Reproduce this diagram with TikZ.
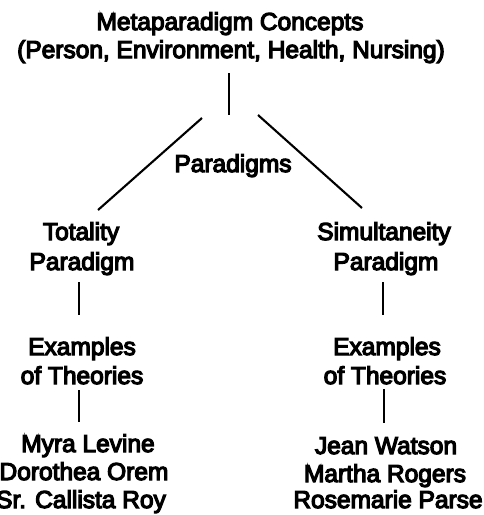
\documentclass[tikz,border=0pt]{standalone}
\usepackage{fontspec}
\setmainfont{Liberation Sans}[FakeBold=5]
\begin{document}
\begin{tikzpicture}[x=1pt,y=-1pt,
  lbl/.style={inner sep=0pt,anchor=base,font=\fontsize{24.5}{28}\selectfont},
  link/.style={line width=2.1pt}]
\useasboundingbox (0,0) rectangle (484,515);
% top concept
\node[lbl] (meta1) at (230,30) {Metaparadigm Concepts};
\node[lbl] (meta2) at (231,58) {(Person, Environment, Health, Nursing)};
\node[lbl] (para) at (233,172) {Paradigms};
% left branch
\node[lbl] (tot) at (81,240) {Totality};
\node[lbl] (totp) at (82,270) {Paradigm};
\node[lbl] (exL) at (82,355) {Examples};
\node[lbl] (ofL) at (82,384) {of Theories};
\node[lbl] (nL1) at (88,452) {Myra Levine};
\node[lbl] (nL2) at (84,480) {Dorothea Orem};
\node[lbl] (nL3) at (81,508) {Sr. Callista Roy};
% right branch
\node[lbl] (sim) at (384,240) {Simultaneity};
\node[lbl] (simp) at (386,270) {Paradigm};
\node[lbl] (exR) at (387,355) {Examples};
\node[lbl] (ofR) at (385,384) {of Theories};
\node[lbl] (nR1) at (386,454) {Jean Watson};
\node[lbl] (nR2) at (385,482) {Martha Rogers};
\node[lbl] (nR3) at (388,508) {Rosemarie Parse};
% connector ends
\coordinate (vtop) at (229,73);
\coordinate (vbot) at (229,115);
\coordinate (dLt) at (202,118);
\coordinate (dLb) at (98,210);
\coordinate (dRt) at (258,115);
\coordinate (dRb) at (362,208);
\coordinate (l1t) at (79,282); \coordinate (l1b) at (79,315);
\coordinate (l2t) at (79,390); \coordinate (l2b) at (79,422);
\coordinate (r1t) at (383,282); \coordinate (r1b) at (383,315);
\coordinate (r2t) at (384,389); \coordinate (r2b) at (384,423);
\draw[link] (vtop) -- (vbot);
\draw[link] (dLt) -- (dLb);
\draw[link] (dRt) -- (dRb);
\draw[link] (l1t) -- (l1b);
\draw[link] (l2t) -- (l2b);
\draw[link] (r1t) -- (r1b);
\draw[link] (r2t) -- (r2b);
\end{tikzpicture}
\end{document}
